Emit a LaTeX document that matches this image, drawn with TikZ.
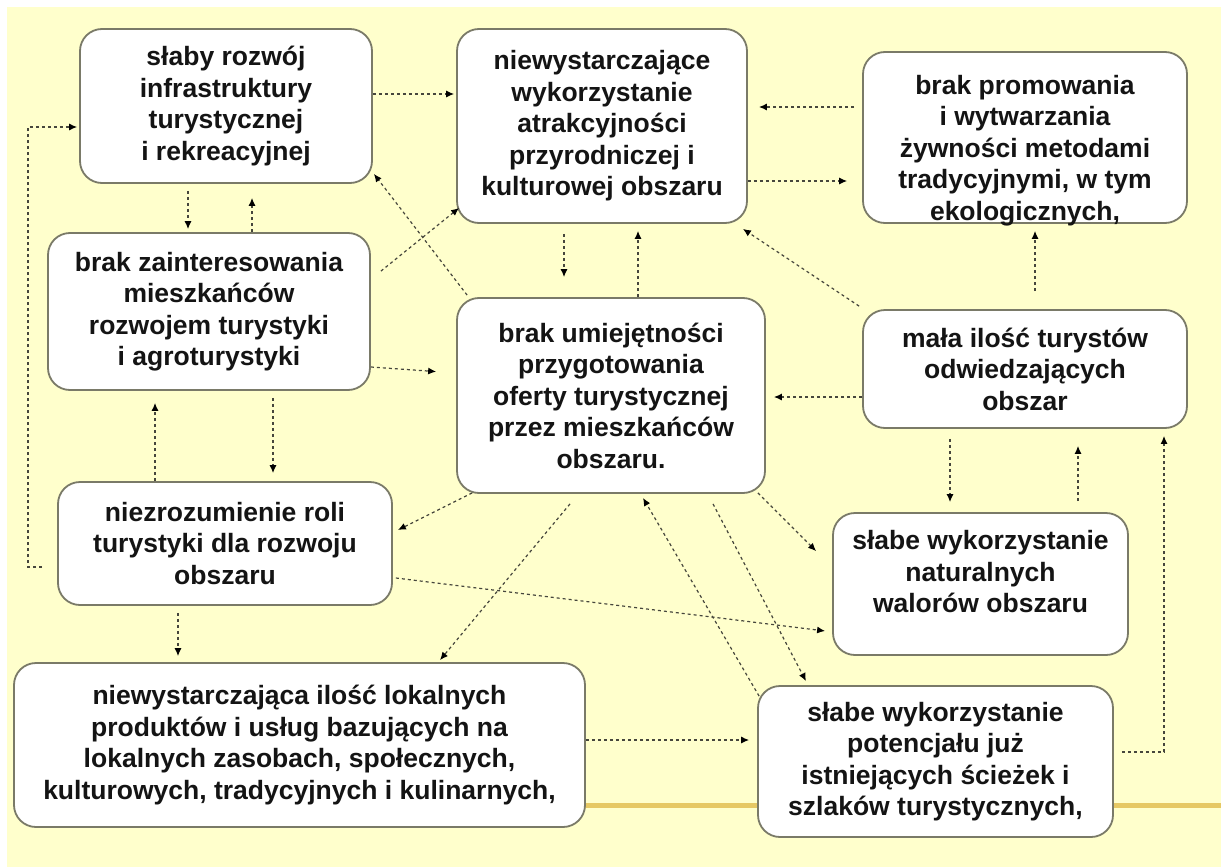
\documentclass[tikz,border=0pt]{standalone}
\usepackage{fontspec}
\setmainfont{Liberation Sans}
\usetikzlibrary{arrows.meta,calc}
\definecolor{paper}{RGB}{255,255,204}
\definecolor{frame}{RGB}{122,122,104}
\definecolor{link}{RGB}{70,70,60}
\definecolor{goldbar}{RGB}{230,200,100}
\begin{document}
\begin{tikzpicture}[x=1pt,y=-1pt,
  panel/.style args={#1/#2}{draw=frame, fill=white, line width=1.8pt,
    rounded corners=22pt, minimum width=#1, minimum height=#2, inner sep=0pt},
  boxtext/.style={align=center, inner sep=0pt, text=black!92,
    font=\bfseries\fontsize{26.5pt}{31.5pt}\selectfont},
  conn/.style={draw=link, line width=1.2pt, dash pattern=on 3pt off 3pt,
    -{Latex[length=8pt,width=7pt,color=black]}},
]
\useasboundingbox (0,0) rectangle (1221,867);
\fill[paper] (7,7) rectangle (1221,867);

% boxes
\node[panel=292pt/154pt] (A) at (226,106) {};
\node[panel=290pt/194pt] (B) at (602,126) {};
\node[panel=324pt/171pt] (C) at (1025,137.5) {};
\node[panel=322pt/157pt] (D) at (209,311.5) {};
\node[panel=308pt/195pt] (E) at (611,395.5) {};
\node[panel=324pt/118pt] (F) at (1025,369) {};
\node[panel=334pt/123pt] (G) at (225,543.5) {};
\node[panel=295pt/142pt] (H) at (980.5,584) {};

% gold rule under the lower boxes
\draw[goldbar, line width=5pt] (585,805) -- (1221,805);

\node[panel=571pt/164pt] (I) at (299.5,745) {};
\node[panel=355pt/151pt] (J) at (935.5,761.5) {};

% box texts
\node[boxtext] (A-t) at (A) {słaby rozwój\\infrastruktury\\turystycznej\\i rekreacyjnej};
\node[boxtext] (B-t) at (B) {niewystarczające\\wykorzystanie\\atrakcyjności\\przyrodniczej i\\kulturowej obszaru};
\node[boxtext, yshift=-13pt] (C-t) at (C) {brak promowania\\i wytwarzania\\żywności metodami\\tradycyjnymi, w tym\\ekologicznych,};
\node[boxtext] (D-t) at (D) {brak zainteresowania\\mieszkańców\\rozwojem turystyki\\i agroturystyki};
\node[boxtext] (E-t) at (E) {brak umiejętności\\przygotowania\\oferty turystycznej\\przez mieszkańców\\obszaru.};
\node[boxtext] (F-t) at (F) {mała ilość turystów\\odwiedzających\\obszar};
\node[boxtext] (G-t) at (G) {niezrozumienie roli\\turystyki dla rozwoju\\obszaru};
\node[boxtext, yshift=12pt] (H-t) at (H) {słabe wykorzystanie\\naturalnych\\walorów obszaru};
\node[boxtext] (I-t) at (I) {niewystarczająca ilość lokalnych\\produktów i usług bazujących na\\lokalnych zasobach, społecznych,\\kulturowych, tradycyjnych i kulinarnych,};
\node[boxtext] (J-t) at (J) {słabe wykorzystanie\\potencjału już\\istniejących ścieżek i\\szlaków turystycznych,};

% connectors
\draw[conn, shorten >=2pt] (A.east |- 0,94) -- (B.west |- 0,94);
\draw[conn, shorten >=2pt] ($(G.west |- 0,567)+(-15,0)$) -| (28,127) -- (A.west |- 0,127);
\draw[conn, shorten <=7pt, shorten >=3pt] (A.south -| 188,0) -- (D.north -| 188,0);
\draw[conn, shorten >=14pt] (D.north -| 252,0) -- (A.south -| 252,0);
\draw[conn] ($(D.north east)+(10,39)$) -- ($(B.south west)+(3,-16)$);
\draw[conn] ($(E.north west)+(11,-2)$) -- ($(A.south east)+(1,-10)$);
\draw[conn, shorten <=10pt, shorten >=20pt] (B.south -| 564,0) -- (E.north -| 564,0);
\draw[conn, shorten >=7pt] (E.north -| 638,0) -- (B.south -| 638,0);
\draw[conn, shorten <=8pt, shorten >=11pt] (C.west |- 0,107) -- (B.east |- 0,107);
\draw[conn, shorten >=15pt] (B.east |- 0,181) -- (C.west |- 0,181);
\draw[conn] ($(F.north west)+(-3,-3)$) -- ($(B.south east)+(-5,5)$);
\draw[conn, shorten <=18pt, shorten >=7pt] (F.north -| 1035,0) -- (C.south -| 1035,0);
\draw[conn, shorten >=8pt] (F.west |- 0,397) -- (E.east |- 0,397);
\draw[conn, shorten >=20pt] (D.east |- 0,367) -- (E.west |- 0,373);
\draw[conn, shorten >=12pt] (G.north -| 155,0) -- (D.south -| 155,0);
\draw[conn, shorten <=7pt, shorten >=8pt] (D.south -| 273,0) -- (G.north -| 273,0);
\draw[conn] ($(E.south west)+(16,-1)$) -- ($(G.east)+(5,-13.5)$);
\draw[conn] ($(G.east)+(3,34.5)$) -- ($(H.west)+(-7,47)$);
\draw[conn] ($(E.south)+(-41,10)$) -- ($(I.north)+(140.5,-2)$);
\draw[conn, shorten <=7pt, shorten >=6pt] (G.south -| 178,0) -- (I.north -| 178,0);
\draw[conn] ($(J.north west)+(2,11)$) -- ($(E.south)+(32,4)$);
\draw[conn] ($(E.south)+(102,10)$) -- ($(J.north)+(-129.5,-4)$);
\draw[conn] ($(E.south east)+(-8,-1)$) -- ($(H.north west)+(-16,39)$);
\draw[conn, shorten <=10pt, shorten >=10pt] (F.south -| 950,0) -- (H.north -| 950,0);
\draw[conn, shorten <=11pt, shorten >=17pt] (H.north -| 1078,0) -- (F.south -| 1078,0);
\draw[conn, shorten <=8pt, shorten >=7pt] (J.east |- 0,752) -| (F.south -| 1164,0);
\draw[conn, shorten >=8pt] (I.east |- 0,740) -- (J.west |- 0,740);
\end{tikzpicture}
\end{document}
